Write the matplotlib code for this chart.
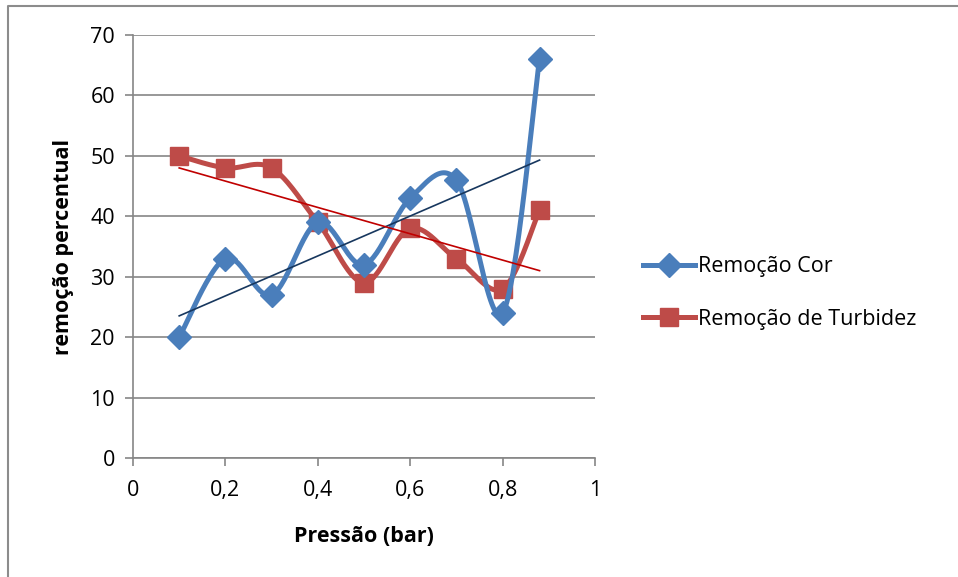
import numpy as np
from matplotlib import pyplot as plt
from matplotlib.lines import Line2D

# pressure (bar) and removal percentages
pressao = [0.1, 0.2, 0.3, 0.4, 0.5, 0.6, 0.7, 0.8, 0.88]
rem_cor = [20, 33, 27, 39, 32, 43, 46, 24, 66]
rem_turb = [50, 48, 48, 39, 29, 38, 33, 28, 41]

x_ticks = [0, 0.2, 0.4, 0.6, 0.8, 1]
x_labels = ['0', '0,2', '0,4', '0,6', '0,8', '1']
y_ticks = [0, 10, 20, 30, 40, 50, 60, 70]

plt.rcParams['font.family'] = ['Open Sans', 'DejaVu Sans']

def smooth(xs, ys, sx=462.0, sy=423.0 / 70, n=30):
    # Catmull-Rom style bezier through the points, done in screen-like units
    p = np.column_stack([np.asarray(xs) * sx, np.asarray(ys) * sy])
    out = []
    for i in range(len(p) - 1):
        p0 = p[i - 1] if i > 0 else p[i]
        p1, p2 = p[i], p[i + 1]
        p3 = p[i + 2] if i + 2 < len(p) else p[i + 1]
        c1 = p1 + (p2 - p0) / 6
        c2 = p2 - (p3 - p1) / 6
        t = np.linspace(0, 1, n)[:, None]
        seg = ((1 - t) ** 3) * p1 + 3 * ((1 - t) ** 2) * t * c1 + 3 * (1 - t) * t ** 2 * c2 + t ** 3 * p2
        out.append(seg if i == 0 else seg[1:])
    out = np.vstack(out)
    return out[:, 0] / sx, out[:, 1] / sy

fig = plt.figure(figsize=(9.58, 5.77), dpi=100)
# chart area border (top and left edges)
fig.add_artist(Line2D([8 / 958, 8 / 958, 1], [0, 1 - 6 / 577, 1 - 6 / 577],
                      transform=fig.transFigure, color='#8c8c8c', lw=1.5))
ax = fig.add_axes([133 / 958, 1 - 458 / 577, 462 / 958, 423 / 577])

blue = '#4a7ebb'
red = '#be4b48'

bx, by = smooth(pressao, rem_cor)
rx, ry = smooth(pressao, rem_turb)
ax.plot(bx, by, color=blue, lw=3.6, solid_capstyle='round', zorder=3)
ax.plot(pressao, rem_cor, ls='none', marker='D', ms=12, color=blue, zorder=4)
ax.plot(rx, ry, color=red, lw=3.6, solid_capstyle='round', zorder=2)
ax.plot(pressao, rem_turb, ls='none', marker='s', ms=13.5, color=red, zorder=2)

# linear trend lines
xs = np.array([pressao[0], pressao[-1]])
cb = np.polyfit(pressao, rem_cor, 1)
cr = np.polyfit(pressao, rem_turb, 1)
ax.plot(xs, np.polyval(cb, xs), color='#17375e', lw=1.2, zorder=5)
ax.plot(xs, np.polyval(cr, xs), color='#c00000', lw=1.2, zorder=5)

ax.set_xlim(0, 1)
ax.set_ylim(0, 70)
ax.set_xticks(x_ticks)
ax.set_xticklabels(x_labels)
ax.set_yticks(y_ticks)
ax.tick_params(axis='both', labelsize=15.5, color='#868686', length=6, width=1.2)
ax.tick_params(axis='x', pad=10)
ax.tick_params(axis='y', pad=7)
ax.grid(axis='y', color='#868686', lw=1.2)
ax.set_axisbelow(True)
for s in ['top', 'right']:
    ax.spines[s].set_visible(False)
for s in ['left', 'bottom']:
    ax.spines[s].set_color('#868686')
    ax.spines[s].set_linewidth(1.2)

ax.set_xlabel('Pressão (bar)', fontsize=15.5, fontweight='bold', labelpad=18)
ax.set_ylabel('remoção percentual', fontsize=15.5, fontweight='bold', labelpad=12)

h1 = Line2D([], [], color=blue, lw=3.6, marker='D', ms=12)
h2 = Line2D([], [], color=red, lw=3.6, marker='s', ms=13.5)
fig.legend([h1, h2], ['Remoção Cor', 'Remoção de Turbidez'], loc='center left',
           bbox_to_anchor=(624 / 958, 1 - 293 / 577), frameon=False, fontsize=15.5,
           handlelength=2.4, handletextpad=0.15, labelspacing=1.45)

fig.savefig('out.png', dpi=100)
